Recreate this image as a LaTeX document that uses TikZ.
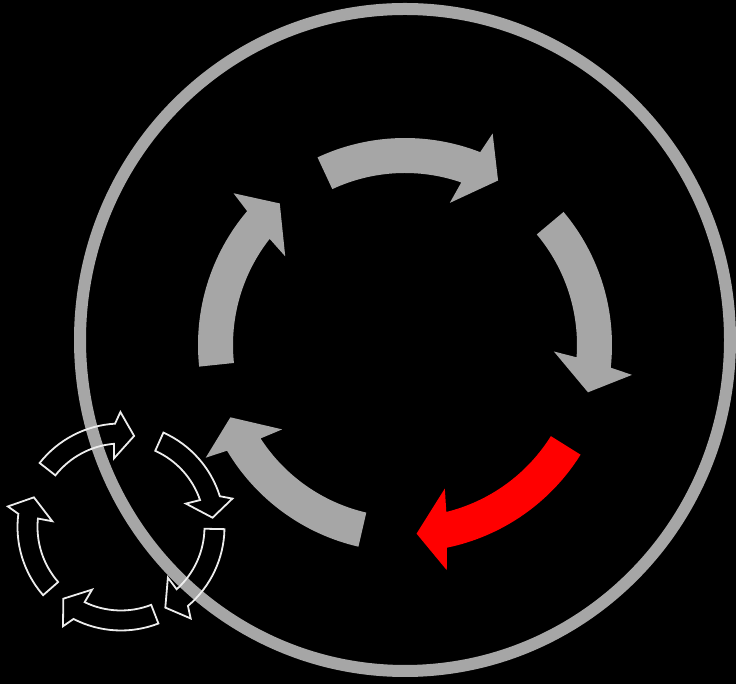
\documentclass[tikz,border=0pt]{standalone}
\definecolor{arrgray}{HTML}{A6A6A6}
\definecolor{arrred}{HTML}{FF0000}
\definecolor{outl}{HTML}{EDEDED}
\tikzset{
  graybig/.style={fill=arrgray,draw=none},
  redbig/.style={fill=arrred,draw=none},
  smallout/.style={draw=outl,line width=1.8pt,fill=none,line join=miter},
  ringline/.style={draw=arrgray,line width=12pt}
}
% big cycle arrow: #1 tail angle, #2 style
\newcommand{\bigcycarrow}[2]{%
  \path[#2] ({#1}:207) arc[start angle={#1}, end angle={#1-46.3}, radius=207]
    -- ({#1-47.5}:229) -- ({#1-54.5}:189) -- ({#1-42.5}:149)
    -- ({#1-44.1}:172) arc[start angle={#1-44.1}, end angle={#1}, radius=172] -- cycle;}
% small outlined cycle arrow: #1 tail angle
\newcommand{\smallcycarrow}[1]{%
  \path[smallout] ({#1}:103.5) arc[start angle={#1}, end angle={#1-48.5}, radius=103.5]
    -- ({#1-51.5}:115) -- ({#1-60}:92) -- ({#1-46}:69)
    -- ({#1-47}:83.5) arc[start angle={#1-47}, end angle={#1}, radius=83.5] -- cycle;}
\begin{document}
\begin{tikzpicture}[x=1pt,y=1pt]
  \fill[black] (0,0) rectangle (736,684);
  \useasboundingbox (0,0) rectangle (736,684);
  \coordinate (ringc) at (405,344);
  \coordinate (bigc) at (405,339);
  \coordinate (smallc) at (121,157);
  % outer ring
  \draw[ringline] (ringc) ellipse[x radius=325, y radius=331];
  % big cycle
  \begin{scope}[shift={(bigc)}]
    \bigcycarrow{186}{graybig}
    \bigcycarrow{115}{graybig}
    \bigcycarrow{40}{graybig}
    \bigcycarrow{-32}{redbig}
    \bigcycarrow{-103}{graybig}
  \end{scope}
  % small cycle
  \begin{scope}[shift={(smallc)}]
    \smallcycarrow{141.8}
    \smallcycarrow{65.8}
    \smallcycarrow{-1.2}
    \smallcycarrow{-68.8}
    \smallcycarrow{221.2}
  \end{scope}
\end{tikzpicture}
\end{document}
